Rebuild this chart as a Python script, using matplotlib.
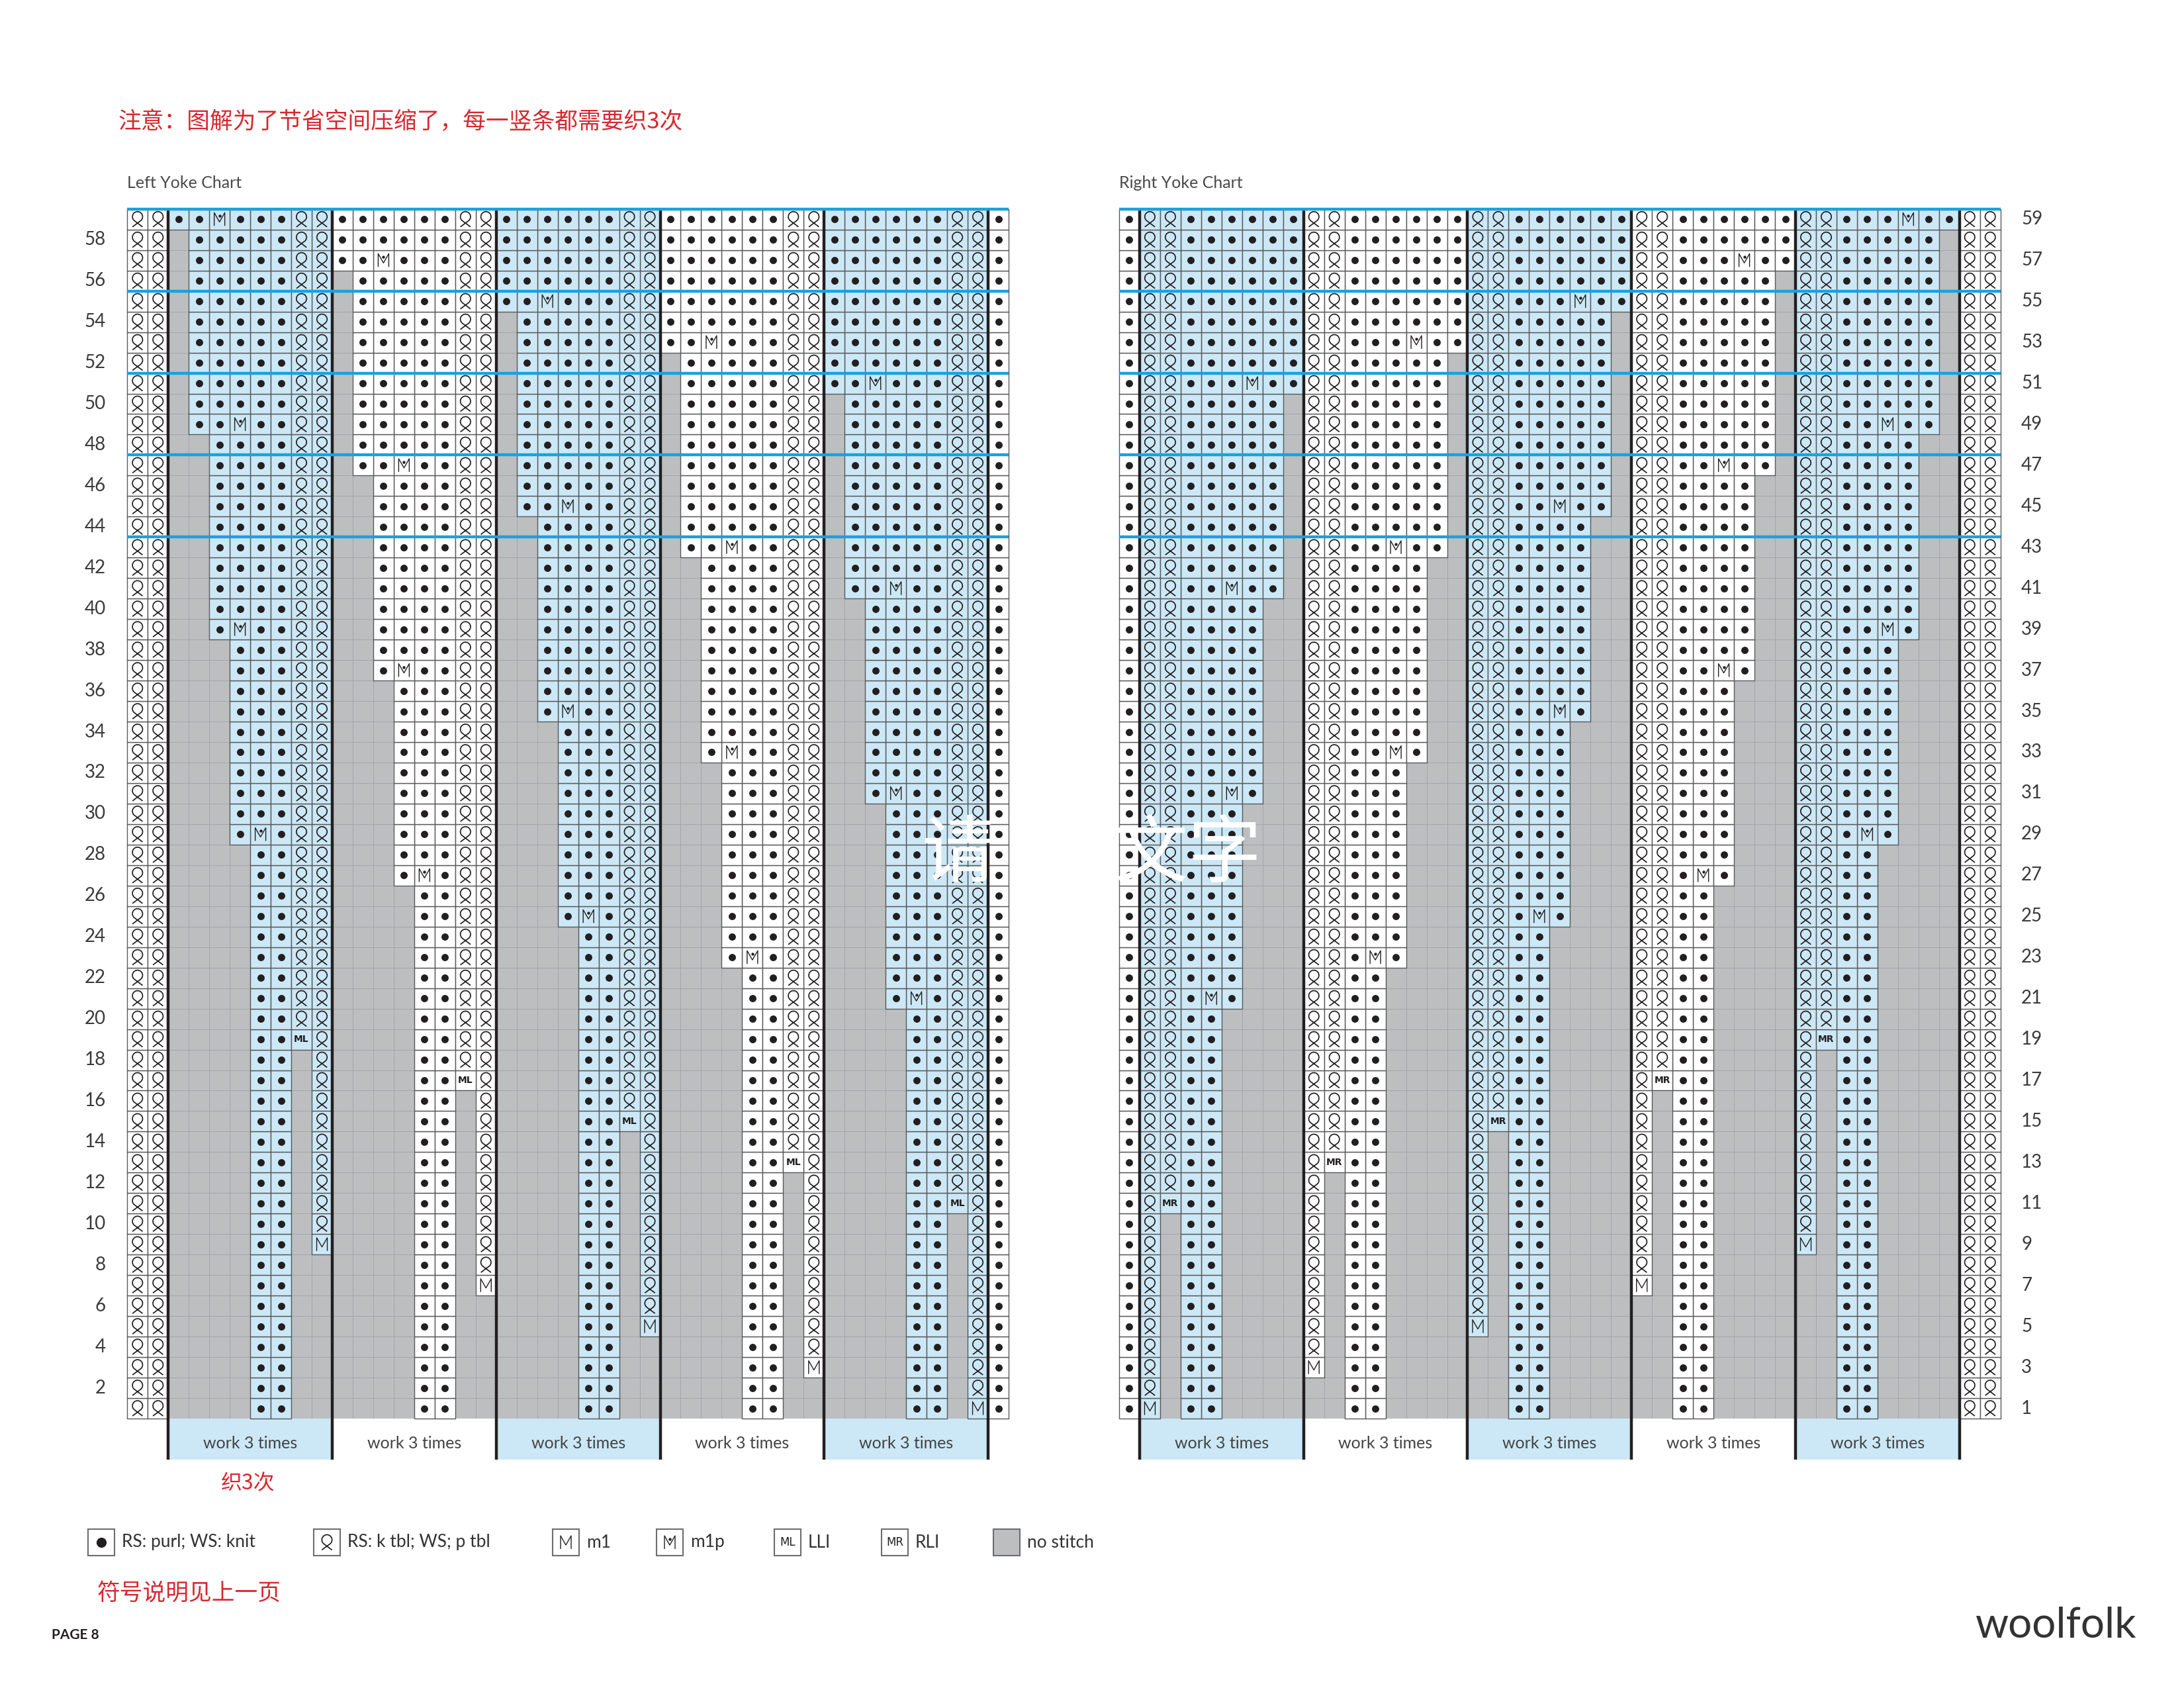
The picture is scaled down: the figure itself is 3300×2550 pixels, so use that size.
import matplotlib
matplotlib.use('Agg')
import matplotlib.pyplot as plt
from matplotlib.patches import Rectangle
from matplotlib.collections import PatchCollection
from matplotlib.path import Path
import numpy as np

# ---- chart data, rows counted from the bottom (row 1) ----
n_rows = 59
# left yoke, panels from left to right
left_m1_rows = [9, 7, 5, 3, 1]            # m1 in the outer tbl column
left_lli_rows = [19, 17, 15, 13, 11]      # LLI in the inner tbl column
left_ext_rows = [[29, 39, 49, 59], [27, 37, 47, 57], [25, 35, 45, 55],
                 [23, 33, 43, 53], [21, 31, 41, 51]]   # m1p rows (purl area widens)
# right yoke, panels from left to right
right_m1_rows = [1, 3, 5, 7, 9]
right_rli_rows = [11, 13, 15, 17, 19]
right_ext_rows = [[21, 31, 41, 51], [23, 33, 43, 53], [25, 35, 45, 55],
                  [27, 37, 47, 57], [29, 39, 49, 59]]
m1p_offset = [1, 1, 2, 2]     # m1p sits this many stitches in from the new stitch
blue_panels = [True, False, True, False, True]
guide_rows = [43, 47, 51, 55, 59]   # blue guide line above these rows
left_labels = [2, 4, 6, 8, 10, 12, 14, 16, 18, 20, 22, 24, 26, 28, 30, 32, 34, 36, 38, 40,
               42, 44, 46, 48, 50, 52, 54, 56, 58]
right_labels = [1, 3, 5, 7, 9, 11, 13, 15, 17, 19, 21, 23, 25, 27, 29, 31, 33, 35, 37, 39,
                41, 43, 45, 47, 49, 51, 53, 55, 57, 59]
band_label = 'work 3 times'
legend_kinds = ['dot', 'q', 'm', 'mp', 'ML', 'MR', 'gray']
legend_texts = ['RS: purl; WS: knit', 'RS: k tbl; WS; p tbl', 'm1', 'm1p', 'LLI', 'RLI', 'no stitch']

# ---- geometry / style ----
cell = 30.97
bottom = 2143.0
top = bottom - n_rows * cell
band_bottom = 2205.0
left_x0 = 192.3
right_x0 = 1691.0
ink = '#231f20'
blue_bg = '#cce8f6'
gray_bg = '#bcbec0'
red = '#d7282f'
cjk = ['Noto Sans CJK SC', 'DejaVu Sans']
latin = ['Lato', 'DejaVu Sans']

theta = np.linspace(np.radians(-50), np.radians(230), 50)
q_verts = [(-0.5, -0.75)] + list(zip(0.5 * np.cos(theta), 0.25 + 0.5 * np.sin(theta))) + [(0.5, -0.75)]
q_path = Path(q_verts)
m_path = Path([(-0.4, -0.5), (-0.4, 0.5), (0.0, -0.2), (0.4, 0.5), (0.4, -0.5)])


def panel_rows(m1, inc, ext, mirror):
    rows = {}
    for r in range(1, n_rows + 1):
        row = {4: 'dot', 5: 'dot'}
        row[7] = None if r < m1 else ('m' if r == m1 else 'q')
        row[6] = None if r < inc else ('ML' if r == inc else 'q')
        for k, e in enumerate(ext):
            row[3 - k] = None if r < e else 'dot'
        for k, e in enumerate(ext):
            if r == e:
                row[3 - k + m1p_offset[k]] = 'mp'
        if mirror:
            row = {7 - j: ('MR' if v == 'ML' else v) for j, v in row.items()}
        rows[r] = row
    return rows


def build_chart(m1s, incs, exts, mirror):
    grid = {}
    for p in range(5):
        rows = panel_rows(m1s[p], incs[p], exts[p], mirror)
        start = 1 if mirror else 2
        for r, row in rows.items():
            for j, v in row.items():
                grid[(r, start + 8 * p + j)] = (v, blue_panels[p])
    edge_q = [41, 42] if mirror else [0, 1]
    edge_dot = 0 if mirror else 42
    for r in range(1, n_rows + 1):
        for c in edge_q:
            grid[(r, c)] = ('q', False)
        grid[(r, edge_dot)] = ('dot', False)
    return grid


fig = plt.figure(figsize=(33, 25.5), dpi=100)
ax = fig.add_axes([0, 0, 1, 1])
ax.set_xlim(0, 3300)
ax.set_ylim(2550, 0)
ax.axis('off')

sym = {'dot': [], 'q': [], 'm': [], 'mp': []}
for x0, m1s, incs, exts, mirror, labels in [
        (left_x0, left_m1_rows, left_lli_rows, left_ext_rows, False, left_labels),
        (right_x0, right_m1_rows, right_rli_rows, right_ext_rows, True, right_labels)]:
    grid = build_chart(m1s, incs, exts, mirror)
    gray_cells, white_cells, blue_cells = [], [], []
    for (r, c), (v, is_blue) in grid.items():
        rect = Rectangle((x0 + c * cell, bottom - r * cell), cell, cell)
        if v is None:
            gray_cells.append(rect)
            continue
        (blue_cells if is_blue else white_cells).append(rect)
        cx = x0 + (c + 0.5) * cell
        cy = bottom - (r - 0.5) * cell
        if v in sym:
            sym[v].append((cx, cy))
        else:
            ax.text(cx, cy, v, ha='center', va='center', fontsize=10, fontweight='bold',
                    family='DejaVu Sans', color=ink, zorder=4)
    ax.add_collection(PatchCollection(gray_cells, facecolor=gray_bg, edgecolor='#a4a6a9',
                                      linewidth=0.7, zorder=1))
    ax.add_collection(PatchCollection(white_cells, facecolor='white', edgecolor='#58595b',
                                      linewidth=1.0, zorder=2))
    ax.add_collection(PatchCollection(blue_cells, facecolor=blue_bg, edgecolor='#58595b',
                                      linewidth=1.0, zorder=2))

    # panel bands under the chart
    p0 = x0 + (1 if mirror else 2) * cell
    for p in range(5):
        px = p0 + 8 * p * cell
        ax.add_patch(Rectangle((px, bottom), 8 * cell, band_bottom - bottom,
                               facecolor=blue_bg if blue_panels[p] else 'white',
                               edgecolor='none', zorder=1))
        ax.text(px + 4 * cell, 2181, band_label, ha='center', va='center', fontsize=18,
                color='#444444', family=latin, zorder=3)
    for p in range(6):
        ax.plot([p0 + 8 * p * cell] * 2, [top, band_bottom], color=ink, lw=3.2,
                solid_capstyle='butt', zorder=5)
    for r in guide_rows:
        ax.plot([x0, x0 + 43 * cell], [bottom - r * cell] * 2, color='#1ba1db', lw=3.2,
                solid_capstyle='butt', zorder=6)

    for r in labels:
        if mirror:
            ax.text(3054, bottom - (r - 0.5) * cell, str(r), ha='left', va='center',
                    fontsize=20, color='#3a3a3a', family=latin)
        else:
            ax.text(160, bottom - (r - 0.5) * cell, str(r), ha='right', va='center',
                    fontsize=20, color='#3a3a3a', family=latin)


def draw_symbols(points, kind, zorder=4, dot_size=62):
    if not points:
        return
    xs, ys = np.array(points).T
    if kind == 'dot':
        ax.scatter(xs, ys, s=dot_size, color=ink, linewidths=0, zorder=zorder)
    elif kind == 'q':
        ax.scatter(xs, ys, s=275, marker=q_path, facecolors='none', edgecolors=ink,
                   linewidths=1.25, zorder=zorder)
    else:
        ax.scatter(xs, ys, s=207, marker=m_path, facecolors='none', edgecolors=ink,
                   linewidths=1.0, zorder=zorder)
        if kind == 'mp':
            ax.scatter(xs, ys - 5, s=10, color=ink, linewidths=0, zorder=zorder)


for kind, pts in sym.items():
    draw_symbols(pts, kind)

# ---- texts ----
ax.text(179, 185, '注意：图解为了节省空间压缩了，每一竖条都需要织3次', ha='left', va='center',
        fontsize=25, color=red, family=cjk)
ax.text(left_x0, 284, 'Left Yoke Chart', ha='left', va='baseline', fontsize=18,
        color='#4a4a4a', family=latin)
ax.text(right_x0, 284, 'Right Yoke Chart', ha='left', va='baseline', fontsize=18,
        color='#4a4a4a', family=latin)
ax.text(375, 2241, '织3次', ha='center', va='center', fontsize=23, color=red, family=cjk)
ax.text(147, 2407, '符号说明见上一页', ha='left', va='center', fontsize=25, color=red, family=cjk)
ax.text(78, 2470, 'PAGE 8', ha='left', va='center', fontsize=15, fontweight='bold',
        color=ink, family=latin)
ax.text(2985, 2474, 'woolfolk', ha='left', va='baseline', fontsize=46,
        color='#333333', family=latin)
# watermark
ax.text(1448, 1292, '请', ha='center', va='center', fontsize=80, color='white', family=cjk, zorder=8)
ax.text(1795, 1292, '文字', ha='center', va='center', fontsize=80, color='white', family=cjk, zorder=8)

# ---- legend ----
legend_x = [153, 494, 855, 1012, 1190, 1352, 1521]
ly = 2330
box = 40
for x, kind, label in zip(legend_x, legend_kinds, legend_texts):
    ax.add_patch(Rectangle((x - box / 2, ly - box / 2), box, box,
                           facecolor=gray_bg if kind == 'gray' else 'white',
                           edgecolor='#6d6e71', linewidth=1.5, zorder=3))
    if kind in ('dot', 'q', 'm', 'mp'):
        draw_symbols([(x, ly)], kind, dot_size=120)
    elif kind in ('ML', 'MR'):
        ax.text(x, ly, kind, ha='center', va='center', fontsize=12, family='DejaVu Sans',
                color=ink, zorder=4)
    ax.text(x + box / 2 + 11, ly, label, ha='left', va='center', fontsize=19,
            color='#333333', family=latin)

fig.savefig('out.png', dpi=100)
